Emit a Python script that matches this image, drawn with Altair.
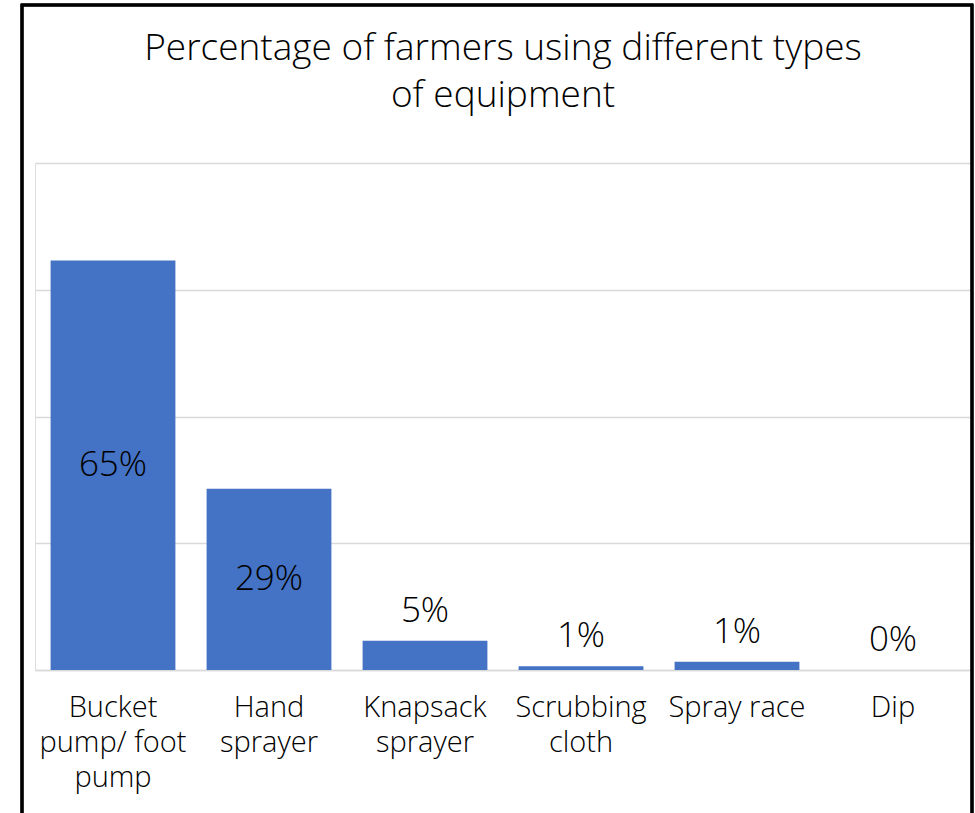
import altair as alt
import pandas as pd

# Share of farmers using each type of equipment (%)
categories = [
    "Bucket\npump/ foot\npump",
    "Hand\nsprayer",
    "Knapsack\nsprayer",
    "Scrubbing\ncloth",
    "Spray race",
    "Dip",
]
shares = [64.6, 28.6, 4.6, 0.6, 1.3, 0.0]

df = pd.DataFrame({"equipment": categories, "share": shares})

FONT = "Open Sans"
WEIGHT = 300
BAR_COLOR = "#4472C4"
PLOT_W, PLOT_H = 936, 507

x_enc = alt.X(
    "equipment:N",
    sort=categories,
    title=None,
    scale=alt.Scale(paddingInner=0.2, paddingOuter=0.1),
    axis=alt.Axis(
        labelExpr="split(datum.label, '\\n')",
        labelAngle=0,
        labelFont=FONT,
        labelFontSize=29,
        labelFontWeight=WEIGHT,
        labelColor="#000000",
        labelLineHeight=35,
        labelPadding=23,
        labelBaseline="top",
        ticks=False,
        domain=True,
        domainColor="#d9d9d9",
        domainWidth=1.5,
        grid=False,
    ),
)

y_scale = alt.Scale(domain=[0, 80], nice=False)

base = alt.Chart(df)

bars = base.mark_bar(color=BAR_COLOR).encode(
    x=x_enc,
    y=alt.Y(
        "share:Q",
        scale=y_scale,
        title=None,
        axis=alt.Axis(
            values=[0, 20, 40, 60, 80],
            labels=False,
            ticks=False,
            domain=False,
            grid=True,
            gridColor="#d9d9d9",
            gridWidth=1.5,
        ),
    ),
)

label_text = alt.Text("label:N")

# large bars: value centred inside the bar
inside = (
    base.transform_filter(alt.datum.share >= 10)
    .transform_calculate(mid="datum.share / 2", label="format(datum.share, '.0f') + '%'")
    .mark_text(font=FONT, fontSize=35, fontWeight=WEIGHT, color="#000000", baseline="middle")
    .encode(x=alt.X("equipment:N", sort=categories), y=alt.Y("mid:Q", scale=y_scale), text=label_text)
)

# small bars: value written just above the bar
outside = (
    base.transform_filter(alt.datum.share < 10)
    .transform_calculate(label="format(datum.share, '.0f') + '%'")
    .mark_text(font=FONT, fontSize=35, fontWeight=WEIGHT, color="#000000", baseline="alphabetic", dy=-19)
    .encode(x=alt.X("equipment:N", sort=categories), y=alt.Y("share:Q", scale=y_scale), text=label_text)
)

# outer chart frame
frame = base.mark_rect(filled=False, stroke="#000000", strokeWidth=2.5, clip=False).encode(
    x=alt.value(-13), x2=alt.value(PLOT_W + 1), y=alt.value(-158), y2=alt.value(PLOT_H + 200)
)

chart = (
    alt.layer(bars, inside, outside, frame)
    .properties(
        width=PLOT_W,
        height=PLOT_H,
        title=alt.TitleParams(
            text=["Percentage of farmers using different types", "of equipment"],
            font=FONT,
            fontSize=37,
            fontWeight=WEIGHT,
            color="#000000",
            lineHeight=47,
            anchor="middle",
            offset=-111,
        ),
        autosize=alt.AutoSizeParams(type="none"),
        padding={"left": 35, "top": 163, "right": 4, "bottom": 143},
    )
    .configure_view(stroke=None)
    .configure(background="#ffffff")
)

chart.save("out.html", embed_options={"renderer": "svg", "actions": False})
